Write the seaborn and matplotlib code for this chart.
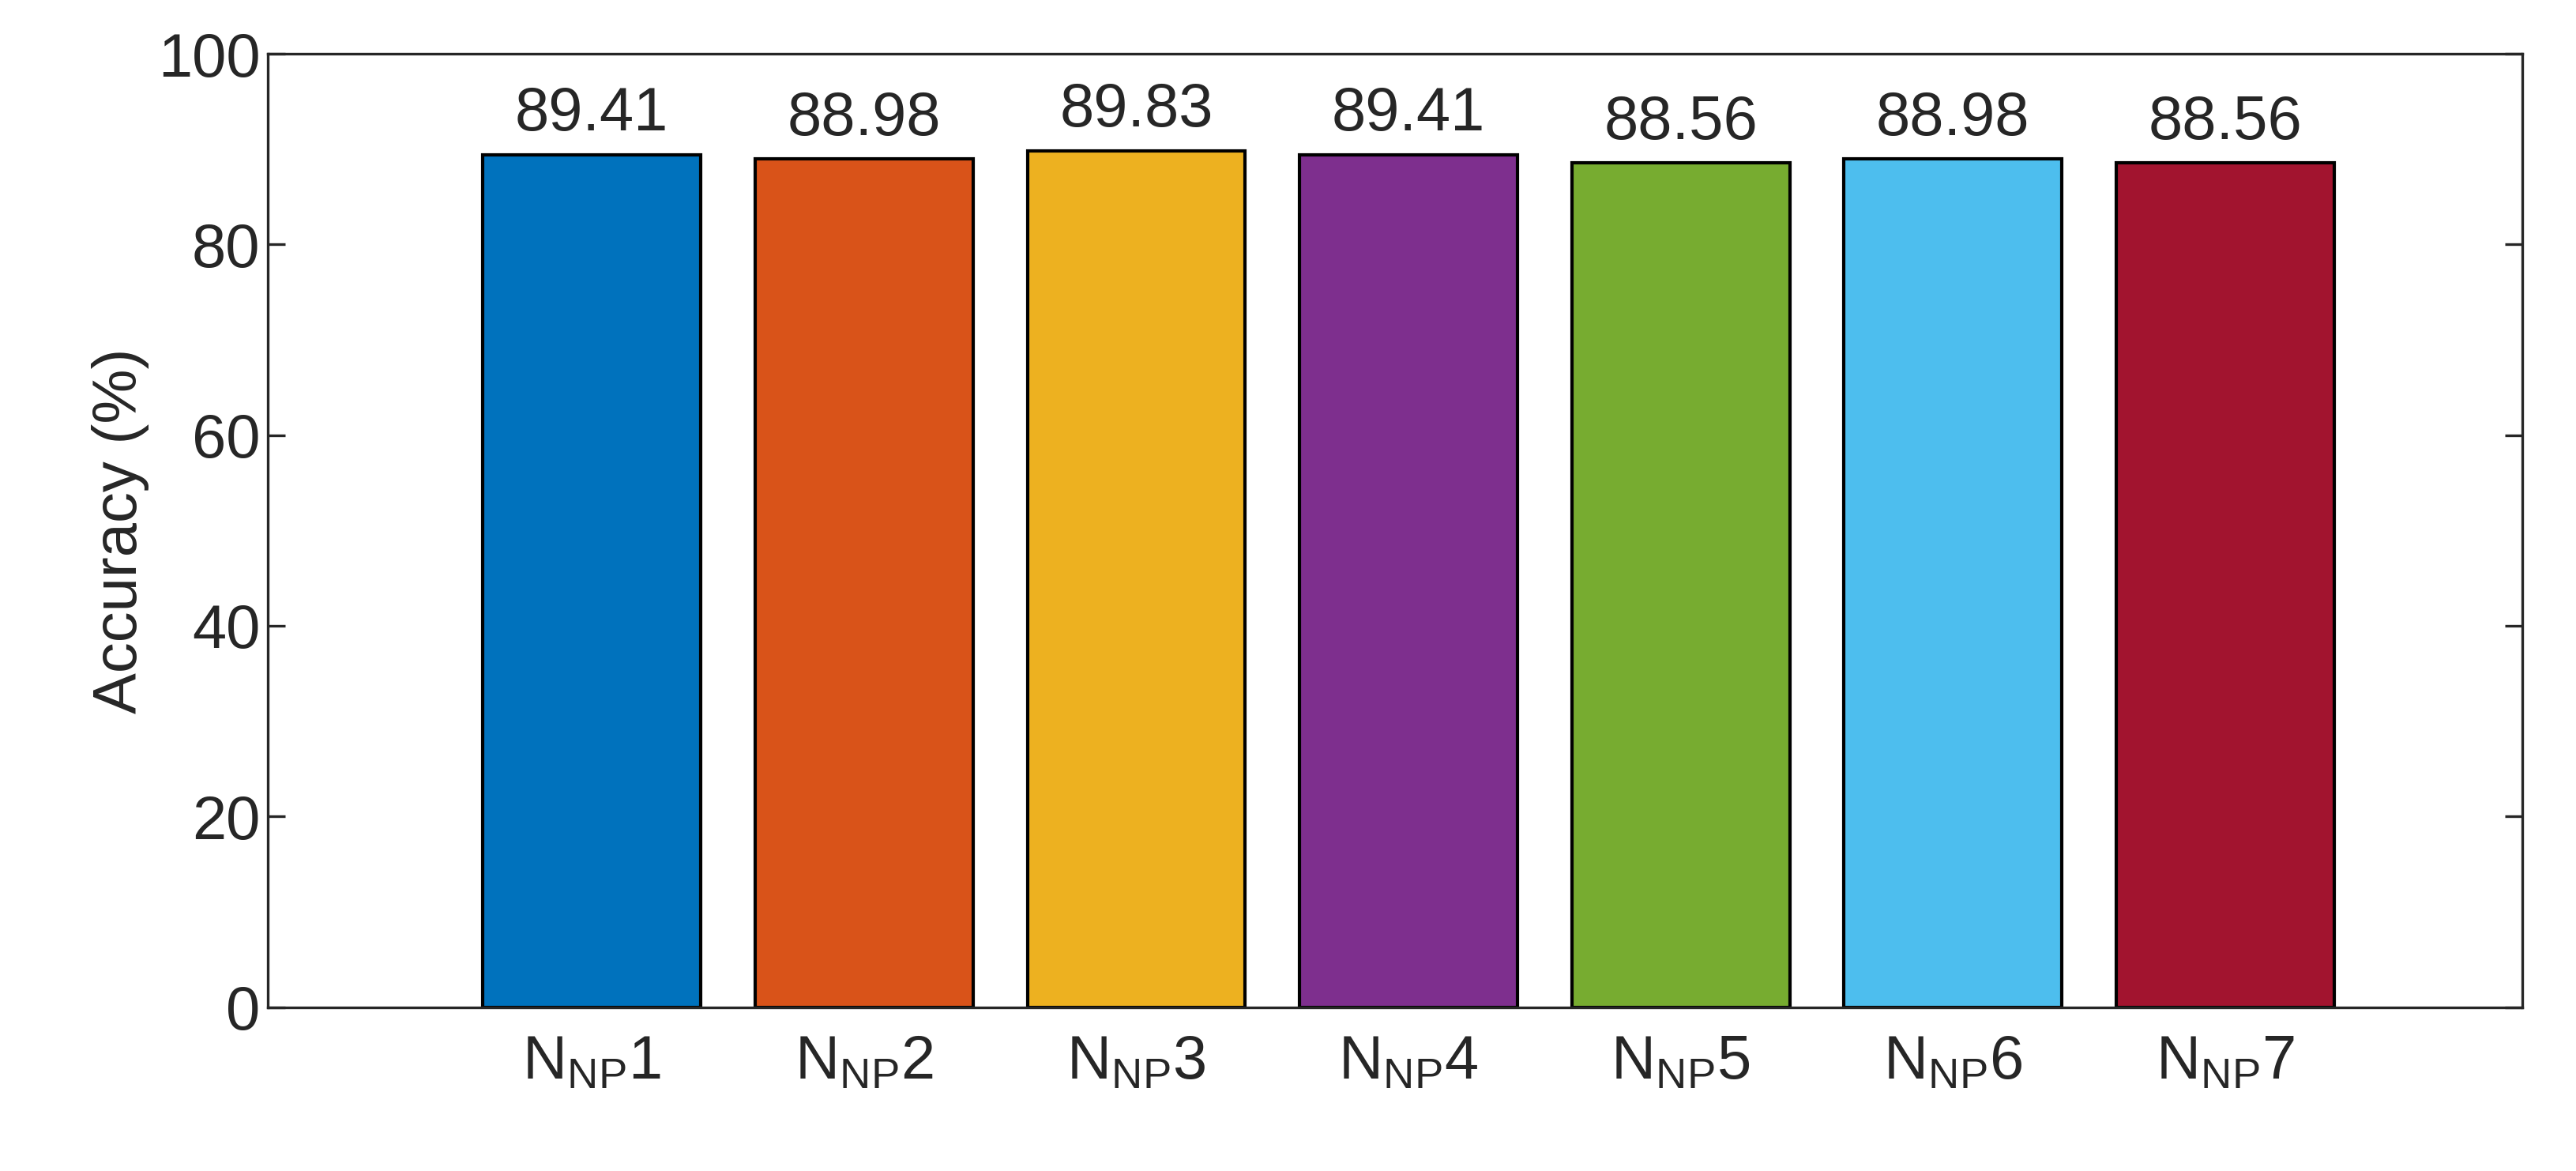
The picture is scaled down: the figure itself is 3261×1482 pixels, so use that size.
import matplotlib
matplotlib.use("Agg")
import matplotlib.pyplot as plt
import seaborn as sns
import pandas as pd

categories = ["N$_{\\mathregular{NP}}$1", "N$_{\\mathregular{NP}}$2", "N$_{\\mathregular{NP}}$3",
              "N$_{\\mathregular{NP}}$4", "N$_{\\mathregular{NP}}$5", "N$_{\\mathregular{NP}}$6",
              "N$_{\\mathregular{NP}}$7"]
values = [89.41, 88.98, 89.83, 89.41, 88.56, 88.98, 88.56]
colors = ["#0072BD", "#D95319", "#EDB120", "#7E2F8E", "#77AC30", "#4DBEEE", "#A2142F"]

sns.set_style("white")
plt.rcParams['font.family'] = ['Liberation Sans', 'DejaVu Sans']
plt.rcParams['mathtext.fontset'] = 'custom'
plt.rcParams['mathtext.rm'] = 'Liberation Sans'

fig = plt.figure(figsize=(16.305, 7.41), dpi=200)
ax = fig.add_axes([0.104, 0.14, 0.875, 0.814])
df = pd.DataFrame({"cat": categories, "val": values})
sns.barplot(data=df, x="cat", y="val", hue="cat", palette=colors, legend=False,
            width=0.8, edgecolor="black", linewidth=1.5, saturation=1, ax=ax)
for i, v in enumerate(values):
    ax.text(i, v + 1.2, f"{v:.2f}", ha="center", va="bottom", fontsize=28)
ax.set_xlim(-1.19, 7.09)
ax.set_ylim(0, 100)
ax.set_yticks(range(0, 101, 20))
ax.set_xlabel("")
ax.set_ylabel("Accuracy (%)", fontsize=28)
ax.tick_params(axis='both', labelsize=28, direction='in', length=8, width=1.2,
               top=False, right=True, bottom=False, left=True)
ax.tick_params(axis='x', pad=12)
for s in ax.spines.values():
    s.set_linewidth(1.2)
    s.set_color("#262626")
fig.savefig("out.png", dpi=200)
